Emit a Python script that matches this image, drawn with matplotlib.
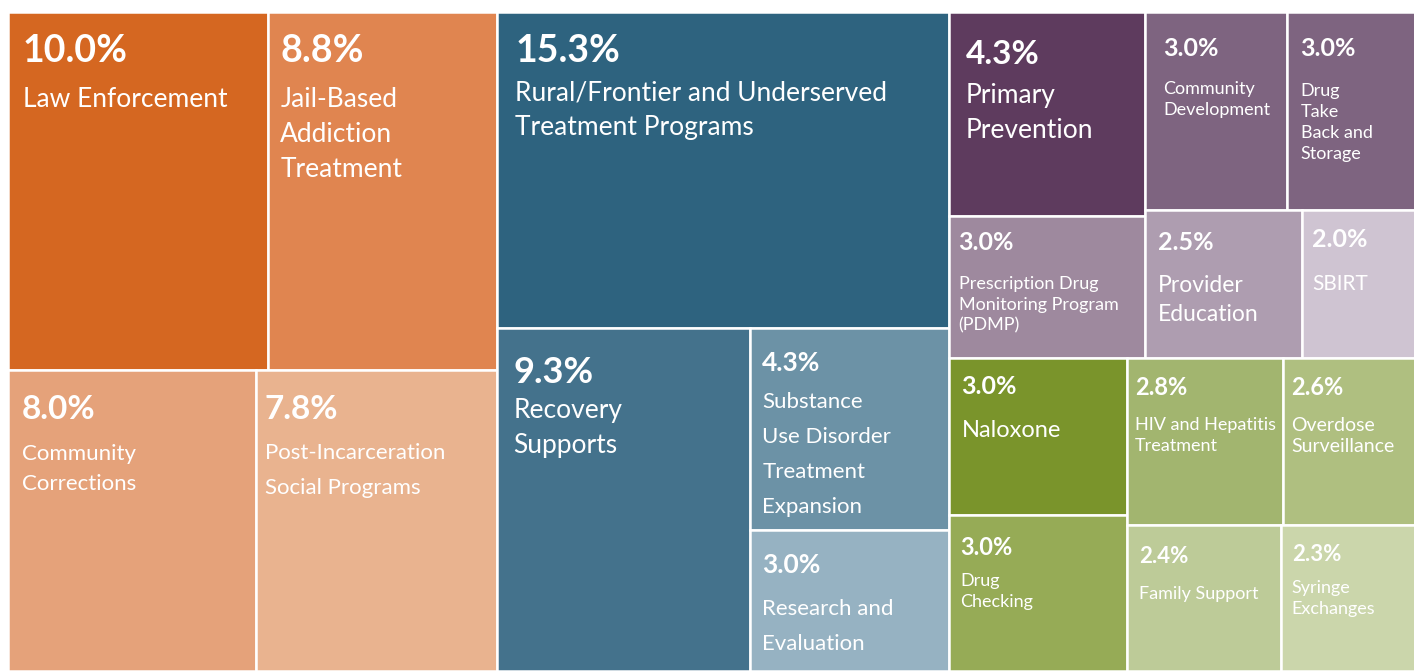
import matplotlib
matplotlib.use("Agg")
import matplotlib.pyplot as plt
from matplotlib.patches import Rectangle

# ---------------- data ----------------
labels = [
    "Law Enforcement",
    "Jail-Based\nAddiction\nTreatment",
    "Community\nCorrections",
    "Post-Incarceration\nSocial Programs",
    "Rural/Frontier and Underserved\nTreatment Programs",
    "Recovery\nSupports",
    "Substance\nUse Disorder\nTreatment\nExpansion",
    "Research and\nEvaluation",
    "Primary\nPrevention",
    "Prescription Drug\nMonitoring Program\n(PDMP)",
    "Community\nDevelopment",
    "Drug\nTake\nBack and\nStorage",
    "Provider\nEducation",
    "SBIRT",
    "Naloxone",
    "Drug\nChecking",
    "HIV and Hepatitis\nTreatment",
    "Overdose\nSurveillance",
    "Family Support",
    "Syringe\nExchanges",
]
values = [10.0, 8.8, 8.0, 7.8,
          15.3, 9.3, 4.3, 3.0,
          4.3, 3.0, 3.0, 3.0, 2.5, 2.0,
          3.0, 3.0, 2.8, 2.6, 2.4, 2.3]

colors = ["#D56721", "#E08550", "#E5A27A", "#E9B38F",
          "#2E637F", "#44728C", "#6C92A6", "#96B2C2",
          "#5E3B5E", "#9E899E", "#7E6480", "#7E6480", "#AE9DB0", "#CFC4D2",
          "#7A942B", "#96AB56", "#A2B56F", "#AFBF80", "#BDCB98", "#CBD6AB"]

# nesting of the treemap: 'h' = side by side, 'v' = stacked (indices into lists above)
tree = ('h', [
    ('v', [('h', [0, 1]), ('h', [2, 3])]),
    ('v', [4, ('h', [5, ('v', [6, 7])])]),
    ('v', [
        ('h', [('v', [8, 9]), ('v', [('h', [10, 11]), ('h', [12, 13])])]),
        ('h', [('v', [14, 15]), ('v', [('h', [16, 17]), ('h', [18, 19])])]),
    ]),
])

# ---------------- text styles (pct size, label size, pad x, pct top, label top, line step) ----------------
styles = [
    (27, 19, 15, 23, 76, 35),
    (27, 19, 12, 23, 76, 35),
    (24, 16, 14, 25, 74, 30),
    (24, 16, 9, 25, 73, 35),
    (27, 19, 18, 23, 70, 34),
    (26, 19, 16, 29, 71, 35),
    (19, 16, 12, 24, 64, 35),
    (19, 16, 12, 24, 69, 35),
    (24, 19, 17, 28, 72, 35),
    (18, 13, 10, 16, 60, 21),
    (18, 13, 18, 26, 69, 21),
    (18, 13, 14, 26, 71, 21),
    (18, 16.5, 13, 22, 66, 29),
    (18, 15, 10, 19, 65, 29),
    (18, 17, 13, 18, 62, 29),
    (17, 13, 12, 23, 58, 21),
    (17, 13, 8, 20, 59, 21),
    (17, 14, 8, 20, 59, 21),
    (16, 13, 12, 22, 61, 21),
    (16, 13, 11, 20, 55, 21),
]


def node_total(node):
    if isinstance(node, int):
        return values[node]
    return sum(node_total(k) for k in node[1])


def do_layout(node, x, y, w, h, out):
    if isinstance(node, int):
        out[node] = (x, y, w, h)
        return
    direction, kids = node
    tot = node_total(node)
    pos = 0.0
    for k in kids:
        frac = node_total(k) / tot
        if direction == 'h':
            do_layout(k, x + pos * w, y, frac * w, h, out)
        else:
            do_layout(k, x, y + pos * h, w, frac * h, out)
        pos += frac


rects = {}
do_layout(tree, 0.0, 0.0, 1.0, 1.0, rects)

W, H = 1414, 671
fig = plt.figure(figsize=(W / 100, H / 100), dpi=100)
fig.patch.set_facecolor("white")
ax = fig.add_axes([8 / W, 0 / H, 1420 / W, 659 / H])
ax.set_xlim(0, 1)
ax.set_ylim(1, 0)
ax.axis("off")

FONT = ["Lato", "DejaVu Sans"]

for i, (lab, val) in enumerate(zip(labels, values)):
    x, y, w, h = rects[i]
    ax.add_patch(Rectangle((x, y), w, h, facecolor=colors[i],
                           edgecolor="white", linewidth=1.8))
    pfs, lfs, px, ptop, ltop, step = styles[i]
    ax.annotate(f"{val:.1f}%", xy=(x, y), xycoords="data",
                xytext=(px, -(ptop + pfs)), textcoords="offset pixels",
                ha="left", va="baseline", color="white",
                fontsize=pfs, fontweight="bold", family=FONT)
    for j, line in enumerate(lab.split("\n")):
        ax.annotate(line, xy=(x, y), xycoords="data",
                    xytext=(px, -(ltop + lfs + j * step)), textcoords="offset pixels",
                    ha="left", va="baseline", color="white",
                    fontsize=lfs, fontweight="normal", family=FONT)

fig.savefig("out.png", dpi=100, facecolor="white")
